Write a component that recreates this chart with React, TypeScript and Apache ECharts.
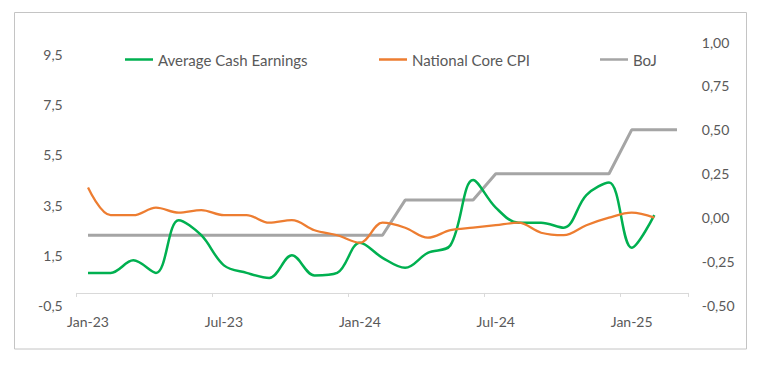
import React, { useEffect, useRef } from "react";
import * as echarts from "echarts";

const categories = [
  "Jan-23", "Feb-23", "Mar-23", "Apr-23", "May-23", "Jun-23", "Jul-23", "Aug-23", "Sep-23",
  "Oct-23", "Nov-23", "Dec-23", "Jan-24", "Feb-24", "Mar-24", "Apr-24", "May-24", "Jun-24",
  "Jul-24", "Aug-24", "Sep-24", "Oct-24", "Nov-24", "Dec-24", "Jan-25", "Feb-25", "Mar-25",
];

const avgCashEarnings = [
  0.8, 0.8, 1.3, 0.8, 2.9, 2.3, 1.1, 0.8, 0.6, 1.5, 0.7, 0.8, 2.0, 1.4, 1.0, 1.6, 1.9, 4.5,
  3.4, 2.8, 2.8, 2.6, 3.9, 4.4, 1.8, 3.1,
];

const nationalCoreCPI = [
  4.2, 3.1, 3.1, 3.4, 3.2, 3.3, 3.1, 3.1, 2.8, 2.9, 2.5, 2.3, 2.0, 2.8, 2.6, 2.2, 2.5, 2.6,
  2.7, 2.8, 2.4, 2.3, 2.7, 3.0, 3.2, 3.0,
];

const bojRate = [
  -0.1, -0.1, -0.1, -0.1, -0.1, -0.1, -0.1, -0.1, -0.1, -0.1, -0.1, -0.1, -0.1, -0.1,
  0.1, 0.1, 0.1, 0.1,
  0.25, 0.25, 0.25, 0.25, 0.25, 0.25,
  0.5, 0.5, 0.5,
];

const seriesNames = ["Average Cash Earnings", "National Core CPI", "BoJ"];

export default function App() {
  const ref = useRef<HTMLDivElement>(null);

  useEffect(() => {
    if (!ref.current) return;
    const chart = echarts.init(ref.current, undefined, { renderer: "svg" });
    const font = "Lato, 'Open Sans', sans-serif";
    const textColor = "#595959";
    const legendBase = {
      top: 52,
      padding: 0,
      icon: "rect",
      itemWidth: 28,
      itemHeight: 2.5,
      textStyle: { fontFamily: font, fontSize: 15, color: textColor },
      selectedMode: false,
    };
    chart.setOption({
      animation: false,
      backgroundColor: "#ffffff",
      textStyle: { fontFamily: font },
      graphic: [
        {
          type: "rect",
          shape: { x: 14.5, y: 12.5, width: 732, height: 336.5 },
          style: { fill: "none", stroke: "#c4c4c4", lineWidth: 1 },
          silent: true,
        },
      ],
      legend: [
        { ...legendBase, left: 125, data: [seriesNames[0]] },
        { ...legendBase, left: 379, data: [seriesNames[1]] },
        { ...legendBase, left: 600, data: [seriesNames[2]] },
      ],
      grid: { left: 76.7, right: 76.7, top: 42, bottom: 64.5, containLabel: false },
      xAxis: {
        type: "category",
        data: categories,
        boundaryGap: true,
        axisLine: { onZero: true, onZeroAxisIndex: 0, lineStyle: { color: "#d9d9d9", width: 1 } },
        axisTick: { show: true, interval: 5, length: 4, lineStyle: { color: "#d9d9d9" } },
        axisLabel: {
          interval: 5,
          margin: 9,
          color: textColor,
          fontFamily: font,
          fontSize: 14,
        },
        splitLine: { show: false },
      },
      yAxis: [
        {
          type: "value",
          min: -0.5,
          max: 10,
          interval: 2,
          position: "left",
          axisLine: { show: false },
          axisTick: { show: false },
          splitLine: { show: false },
          axisLabel: {
            showMaxLabel: false,
            margin: 14,
            color: textColor,
            fontFamily: font,
            fontSize: 14,
            formatter: (v: number) => v.toFixed(1).replace(".", ","),
          },
        },
        {
          type: "value",
          min: -0.5,
          max: 1,
          interval: 0.25,
          position: "right",
          axisLine: { show: false },
          axisTick: { show: false },
          splitLine: { show: false },
          axisLabel: {
            margin: 13.5,
            color: textColor,
            fontFamily: font,
            fontSize: 14,
            formatter: (v: number) => v.toFixed(2).replace(".", ","),
          },
        },
      ],
      series: [
        {
          name: seriesNames[0],
          type: "line",
          yAxisIndex: 0,
          data: avgCashEarnings,
          smooth: 0.35,
          symbol: "none",
          color: "#00b050",
          lineStyle: { color: "#00b050", width: 2.5 },
          z: 3,
        },
        {
          name: seriesNames[1],
          type: "line",
          yAxisIndex: 0,
          data: nationalCoreCPI,
          smooth: 0.35,
          symbol: "none",
          color: "#ed7d31",
          lineStyle: { color: "#ed7d31", width: 2.25 },
          z: 3,
        },
        {
          name: seriesNames[2],
          type: "line",
          yAxisIndex: 1,
          data: bojRate,
          smooth: false,
          symbol: "none",
          color: "#a5a5a5",
          lineStyle: { color: "#a5a5a5", width: 3 },
          z: 2,
        },
      ],
    });
    return () => chart.dispose();
  }, []);

  return (
    <div
      ref={ref}
      style={{ position: "fixed", left: 0, top: 0, width: 765, height: 370, background: "#fff" }}
    />
  );
}
